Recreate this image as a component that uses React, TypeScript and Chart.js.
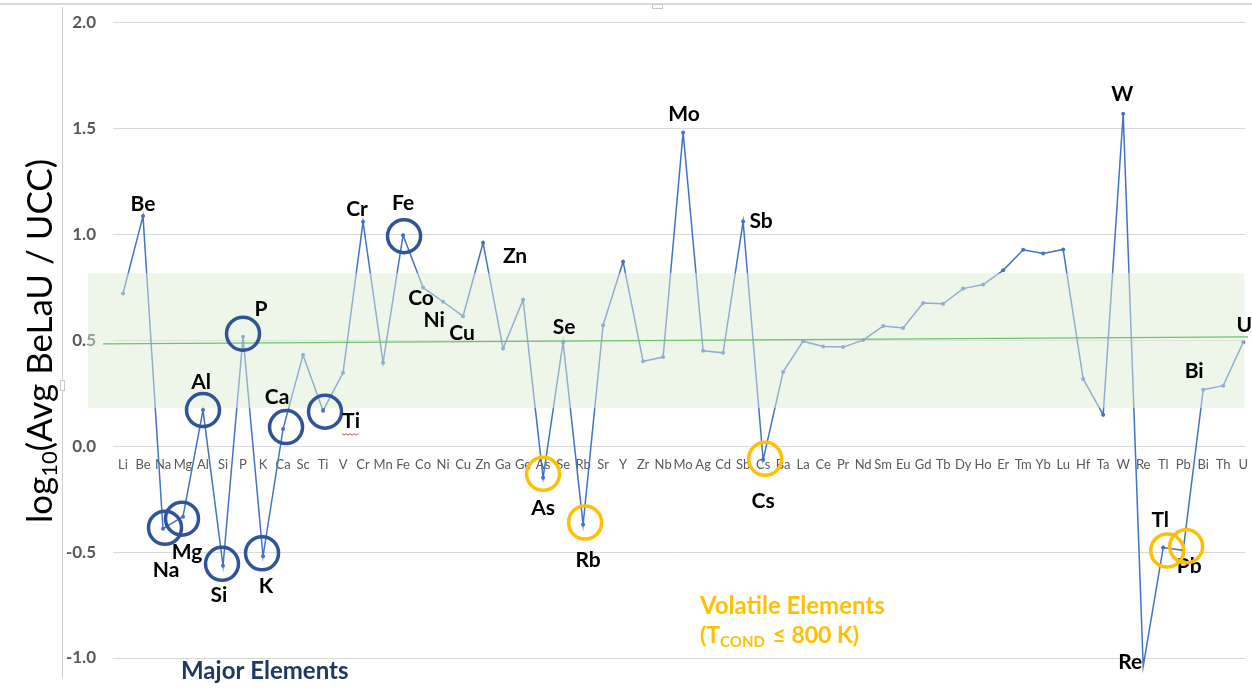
import React, { useEffect, useRef } from "react";
import { Chart, registerables } from "chart.js";

Chart.register(...registerables);

// ---------- data ----------
const CATEGORIES = [
  "Li", "Be", "Na", "Mg", "Al", "Si", "P", "K", "Ca", "Sc", "Ti", "V", "Cr", "Mn", "Fe", "Co", "Ni", "Cu", "Zn",
  "Ga", "Ge", "As", "Se", "Rb", "Sr", "Y", "Zr", "Nb", "Mo", "Ag", "Cd", "Sb", "Cs", "Ba", "La", "Ce", "Pr", "Nd",
  "Sm", "Eu", "Gd", "Tb", "Dy", "Ho", "Er", "Tm", "Yb", "Lu", "Hf", "Ta", "W", "Re", "Tl", "Pb", "Bi", "Th", "U",
];

const LOG_RATIO = [
  0.72, 1.085, -0.39, -0.333, 0.17, -0.565, 0.516, -0.52, 0.08, 0.43, 0.167, 0.346, 1.058, 0.393, 0.995, 0.748,
  0.681, 0.613, 0.959, 0.46, 0.69, -0.15, 0.49, -0.37, 0.57, 0.87, 0.4, 0.42, 1.48, 0.45, 0.44, 1.06, -0.065,
  0.35, 0.495, 0.47, 0.467, 0.5, 0.566, 0.557, 0.675, 0.671, 0.743, 0.762, 0.829, 0.926, 0.909, 0.928, 0.316,
  0.148, 1.568, -1.04, -0.479, -0.492, 0.266, 0.285, 0.49,
];

const Y_MIN = -1.0;
const Y_MAX = 2.0;
const Y_STEP = 0.5;

const BAND_RANGE = [0.18, 0.816]; // shaded range
const TREND_ENDS = [0.483, 0.515]; // green trend line, first and last category

const MAJOR_CIRCLED = ["Na", "Mg", "Al", "Si", "P", "K", "Ca", "Ti", "Fe"];
const VOLATILE_CIRCLED = ["As", "Rb", "Cs", "Tl", "Pb"];
const LABELLED = [
  "Be", "Na", "Mg", "Al", "Si", "P", "K", "Ca", "Ti", "Cr", "Fe", "Co", "Ni", "Cu", "Zn", "As", "Se", "Rb",
  "Mo", "Sb", "Cs", "W", "Re", "Tl", "Pb", "Bi", "U",
];

// ---------- styles / label offsets (pixels relative to the point) ----------
const LABEL_OFFSET: Record<string, [number, number]> = {
  Be: [0, -12], Na: [3, 42], Mg: [4, 36], Al: [-2, -28], Si: [-4, 29], P: [18, -27], K: [3, 30],
  Ca: [-6, -32], Ti: [28, 11], Cr: [-6, -13], Fe: [0, -32], Co: [-2, 11], Ni: [-9, 18], Cu: [-1, 17],
  Zn: [32, 13], As: [0, 30], Se: [1, -15], Rb: [5, 36], Mo: [1, -18], Sb: [18, 0], Cs: [0, 41],
  W: [-1, -20], Re: [-13, -4], Tl: [-3, -27], Pb: [6, 16], Bi: [-9, -18], U: [1, -17],
};
const CIRCLE_OFFSET: Record<string, [number, number]> = {
  Na: [2, -1], Mg: [-1, 2], Al: [0, 0], Si: [-1, -2], P: [0, -3], K: [-1, -3], Ca: [3, -2], Ti: [2, 1],
  Fe: [1, 1], As: [0, -4], Rb: [2, -2], Cs: [2, -1], Tl: [4, 3], Pb: [3, -4],
};

const BLUE = "#4472C4";
const NAVY = "#2F5597";
const ORANGE = "#FFC000";
const FONT = "Lato, 'Open Sans', sans-serif";

// canvas is shifted so the plot area lands where the reference has it
const CANVAS_SHIFT_Y = 5;
const CANVAS_W = 1259;
const CANVAS_H = 697;

const overlayPlugin = {
  id: "overlay",
  afterDatasetsDraw(chart: any) {
    const { ctx, chartArea } = chart;
    const x = chart.scales.x;
    const y = chart.scales.y;
    ctx.save();
    // translucent shaded band (drawn over the line)
    const top = y.getPixelForValue(BAND_RANGE[1]);
    const bot = y.getPixelForValue(BAND_RANGE[0]);
    const left = chartArea.left - 25;
    const right = x.getPixelForValue(CATEGORIES.length - 1 + 0.05);
    ctx.fillStyle = "rgba(222,237,214,0.5)";
    ctx.fillRect(left, top, right - left, bot - top);
    // trend line
    ctx.strokeStyle = "#6CC46C";
    ctx.lineWidth = 1.2;
    ctx.beginPath();
    const x0 = chartArea.left - 10;
    const x1 = x.getPixelForValue(CATEGORIES.length - 1 + 0.25);
    const p0 = x.getPixelForValue(0);
    const pN = x.getPixelForValue(CATEGORIES.length - 1);
    const slope = (y.getPixelForValue(TREND_ENDS[1]) - y.getPixelForValue(TREND_ENDS[0])) / (pN - p0);
    ctx.moveTo(x0, y.getPixelForValue(TREND_ENDS[0]) + slope * (x0 - p0));
    ctx.lineTo(x1, y.getPixelForValue(TREND_ENDS[0]) + slope * (x1 - p0));
    ctx.stroke();
    ctx.restore();
  },
  afterDraw(chart: any) {
    const { ctx } = chart;
    const x = chart.scales.x;
    const y = chart.scales.y;
    const pt = (el: string) => {
      const i = CATEGORIES.indexOf(el);
      return [x.getPixelForValue(i), y.getPixelForValue(LOG_RATIO[i])];
    };
    ctx.save();
    // circles
    const circle = (el: string, color: string) => {
      const [px, py] = pt(el);
      const [dx, dy] = CIRCLE_OFFSET[el] || [0, 0];
      ctx.beginPath();
      ctx.arc(px + dx, py + dy, 16.5, 0, Math.PI * 2);
      ctx.strokeStyle = color;
      ctx.lineWidth = 3.5;
      ctx.stroke();
    };
    MAJOR_CIRCLED.forEach((el) => circle(el, NAVY));
    // labels
    ctx.fillStyle = "#000";
    ctx.font = `bold 21px ${FONT}`;
    ctx.textAlign = "center";
    ctx.textBaseline = "middle";
    LABELLED.forEach((el) => {
      const [px, py] = pt(el);
      const [dx, dy] = LABEL_OFFSET[el] || [0, -15];
      ctx.fillText(el, px + dx, py + dy);
      if (el === "Ti") {
        const w = ctx.measureText(el).width;
        ctx.strokeStyle = "#E04040";
        ctx.lineWidth = 1;
        ctx.beginPath();
        const sx = px + dx - w / 2;
        const sy = py + dy + 12;
        ctx.moveTo(sx, sy);
        for (let k = 0; k <= w; k += 2) ctx.lineTo(sx + k, sy + (k % 4 === 0 ? 0 : 1.5));
        ctx.stroke();
      }
    });
    VOLATILE_CIRCLED.forEach((el) => circle(el, ORANGE));

    // group captions (page coordinates -> canvas coordinates)
    const sy = CANVAS_SHIFT_Y;
    ctx.textAlign = "left";
    ctx.fillStyle = "#1F3864";
    ctx.font = `bold 24px ${FONT}`;
    ctx.fillText("Major Elements", 181, 671 + sy);
    ctx.fillStyle = ORANGE;
    ctx.font = `bold 24px ${FONT}`;
    ctx.fillText("Volatile Elements", 700, 606 + sy);
    let cx = 700;
    const cy = 636 + sy;
    ctx.font = `bold 23px ${FONT}`;
    ctx.fillText("(T", cx, cy);
    cx += ctx.measureText("(T").width;
    ctx.font = `bold 15px ${FONT}`;
    ctx.fillText("COND", cx, cy + 6);
    cx += ctx.measureText("COND").width + 2;
    ctx.font = `bold 23px ${FONT}`;
    ctx.fillText(" \u2264 800 K)", cx, cy);

    // y-axis title with subscript
    ctx.translate(41, 341 + sy);
    ctx.rotate(-Math.PI / 2);
    ctx.fillStyle = "#000";
    const big = `35px ${FONT}`;
    const small = `22px ${FONT}`;
    const parts: [string, string, number][] = [
      ["log", big, 0],
      ["10", small, 9],
      ["(Avg BeLaU / UCC)", big, 0],
    ];
    let total = 0;
    parts.forEach(([t, f]) => {
      ctx.font = f;
      total += ctx.measureText(t).width;
    });
    let tx = -total / 2;
    parts.forEach(([t, f, off]) => {
      ctx.font = f;
      ctx.fillText(t, tx, off);
      tx += ctx.measureText(t).width;
    });
    ctx.restore();
  },
};

export default function App() {
  const ref = useRef<HTMLCanvasElement | null>(null);
  useEffect(() => {
    if (!ref.current) return;
    const chart = new Chart(ref.current, {
      type: "line",
      data: {
        datasets: [
          {
            data: LOG_RATIO.map((v, i) => ({ x: i, y: v })),
            borderColor: BLUE,
            backgroundColor: BLUE,
            borderWidth: 1.5,
            pointRadius: 2,
            pointBorderWidth: 0,
            pointBackgroundColor: BLUE,
            tension: 0,
            clip: false as any,
          },
        ],
      },
      options: {
        animation: false,
        responsive: false,
        devicePixelRatio: 1,
        layout: { padding: { top: 17, bottom: 34, right: 0, left: 0 } },
        plugins: { legend: { display: false }, tooltip: { enabled: false } },
        scales: {
          x: {
            type: "linear",
            position: { y: 0 } as any,
            min: -0.5,
            max: CATEGORIES.length - 1 + 0.1,
            grid: { display: false, drawTicks: false },
            border: { display: false },
            afterBuildTicks: (s: any) => {
              s.ticks = CATEGORIES.map((_, i) => ({ value: i }));
            },
            ticks: {
              autoSkip: false,
              maxRotation: 0,
              minRotation: 0,
              padding: 11,
              color: "#595959",
              font: { family: FONT, size: 13 },
              callback: (v: any) => CATEGORIES[v] ?? "",
            },
          },
          y: {
            min: Y_MIN,
            max: Y_MAX,
            afterFit: (s: any) => {
              s.width = 113;
            },
            grid: { color: "#D9D9D9", lineWidth: 1, drawTicks: false },
            border: { display: false },
            ticks: {
              stepSize: Y_STEP,
              padding: 17,
              color: "#595959",
              font: { family: FONT, size: 17, weight: "bold" },
              callback: (v: any) => Number(v).toFixed(1),
            },
          },
        },
      },
      plugins: [overlayPlugin],
    });
    return () => chart.destroy();
  }, []);

  return (
    <div style={{ position: "fixed", left: 0, top: 0, width: 1252, height: 692, background: "#fff", overflow: "hidden" }}>
      <canvas
        ref={ref}
        width={CANVAS_W}
        height={CANVAS_H}
        style={{ position: "absolute", left: 0, top: -CANVAS_SHIFT_Y }}
      />
      <div style={{ position: "absolute", left: 0, top: 3, width: 1252, height: 2, background: "#DADADA" }} />
      <div style={{ position: "absolute", left: 62, top: 7, width: 1, height: 671, background: "#CFCFCF" }} />
      <div style={{ position: "absolute", left: 652, top: 4, width: 9, height: 3, background: "#fff", border: "1px solid #C8C8C8" }} />
      <div style={{ position: "absolute", left: 60, top: 380, width: 3, height: 9, background: "#fff", border: "1px solid #C8C8C8" }} />
    </div>
  );
}
